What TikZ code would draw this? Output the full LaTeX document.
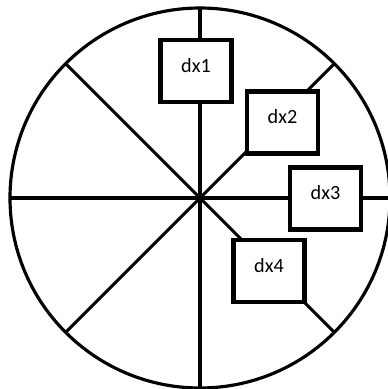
\documentclass[tikz,border=0pt]{standalone}
\usepackage{fontspec}
\setmainfont{Carlito}
\tikzset{
    spoke/.style={line width=1.8pt},
    dxbox/.style={draw, fill=white, line width=2.6pt, minimum width=1.42cm, minimum height=1.24cm, inner sep=0pt, text depth=6.8pt, font=\fontsize{11.5}{13}\selectfont}
}
\begin{document}
\begin{tikzpicture}[x=0.02cm, y=0.02cm]
        \useasboundingbox (-200,-191) rectangle (187,198);
        
        % circle
        \coordinate (o) at (0,0);
        \draw [spoke] (o) circle (190);
        
        % spokes
        \foreach \a in {0,45,...,315}
            \draw [spoke] (o) -- (\a:190);
        
        % boxes
        \node [dxbox] (dx1) at (-4,127) {dx1};
        \node [dxbox] (dx2) at (82.5,75.5) {dx2};
        \node [dxbox] (dx3) at (125.5,-0.5) {dx3};
        \node [dxbox] (dx4) at (69,-73) {dx4};
    \end{tikzpicture}
\end{document}
